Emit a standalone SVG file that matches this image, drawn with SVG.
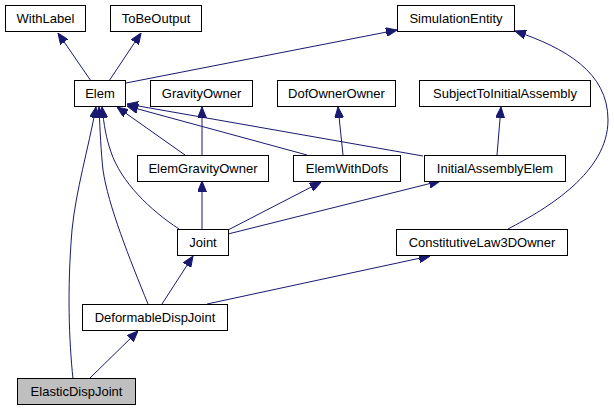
<svg xmlns="http://www.w3.org/2000/svg" width="614" height="411" viewBox="0 0 614 411">
<style>
.n rect{fill:#fff;stroke:#000;stroke-width:1}
.n text{font-family:"Liberation Sans",Arial,sans-serif;font-size:13px;text-anchor:middle;fill:#000}
.e path{fill:none;stroke:#191970;stroke-width:1;marker-end:url(#ah)}
</style>
<defs>
<marker id="ah" viewBox="0 0 11 9" refX="11" refY="4.5" markerWidth="11" markerHeight="9" markerUnits="userSpaceOnUse" orient="auto">
<path d="M0,0 L11,4.5 L0,9 z" fill="#191970" stroke="#191970"/>
</marker>
</defs>
<rect width="614" height="411" fill="#fff"/>
<g id="edges" class="e">
<path d="M91,81 L58,33"/>
<path d="M109,81 L141,33"/>
<path d="M126,83 L397,30"/>
<path d="M185,155 L117,107"/>
<path d="M202,155 L202,107"/>
<path d="M307,155 L127,106"/>
<path d="M343,155 L338,107"/>
<path d="M423,156 L127,104"/>
<path d="M497,155 L501,107"/>
<path d="M179,229 C150,210 121,182 111,152 C106,138 104,125 102,107"/>
<path d="M202,229 L202,181"/>
<path d="M228,230 L321,182"/>
<path d="M228,234 L440,181"/>
<path d="M148,304 C130,260 108,205 103,170 C101,152 100,130 99,107"/>
<path d="M162,304 L193,256"/>
<path d="M207,304 L430,256"/>
<path d="M73,379 C69,340 67,290 72,230 C76,190 88,150 96,107"/>
<path d="M89,379 L138,331"/>
<path d="M508,229 C548,208 608,172 608,120 C608,72 565,48 515,31"/>
</g>
<g id="WithLabel" class="n"><rect x="5.5" y="5.5" width="80" height="26"/><text x="45.5" y="23">WithLabel</text></g>
<g id="ToBeOutput" class="n"><rect x="110.5" y="5.5" width="91" height="26"/><text x="156" y="23">ToBeOutput</text></g>
<g id="SimulationEntity" class="n"><rect x="397.5" y="5.5" width="117" height="26"/><text x="456" y="23">SimulationEntity</text></g>
<g id="Elem" class="n"><rect x="74.5" y="80.5" width="51" height="26"/><text x="100" y="98">Elem</text></g>
<g id="GravityOwner" class="n"><rect x="150.5" y="80.5" width="102" height="26"/><text x="201.5" y="98">GravityOwner</text></g>
<g id="DofOwnerOwner" class="n"><rect x="277.5" y="80.5" width="118" height="26"/><text x="336.5" y="98">DofOwnerOwner</text></g>
<g id="SubjectToInitialAssembly" class="n"><rect x="419.5" y="80.5" width="171" height="26"/><text x="505" y="98">SubjectToInitialAssembly</text></g>
<g id="ElemGravityOwner" class="n"><rect x="137.5" y="155.5" width="131" height="26"/><text x="203" y="173">ElemGravityOwner</text></g>
<g id="ElemWithDofs" class="n"><rect x="293.5" y="155.5" width="107" height="26"/><text x="347" y="173">ElemWithDofs</text></g>
<g id="InitialAssemblyElem" class="n"><rect x="424.5" y="155.5" width="141" height="26"/><text x="495" y="173">InitialAssemblyElem</text></g>
<g id="Joint" class="n"><rect x="177.5" y="229.5" width="51" height="26"/><text x="203" y="247">Joint</text></g>
<g id="ConstitutiveLaw3DOwner" class="n"><rect x="396.5" y="229.5" width="171" height="26"/><text x="482" y="247">ConstitutiveLaw3DOwner</text></g>
<g id="DeformableDispJoint" class="n"><rect x="82.5" y="304.5" width="145" height="26"/><text x="155" y="322">DeformableDispJoint</text></g>
<g id="ElasticDispJoint" class="n"><rect x="17.5" y="378.5" width="118" height="26" style="fill:#bfbfbf"/><text x="76.5" y="396">ElasticDispJoint</text></g>
</svg>
